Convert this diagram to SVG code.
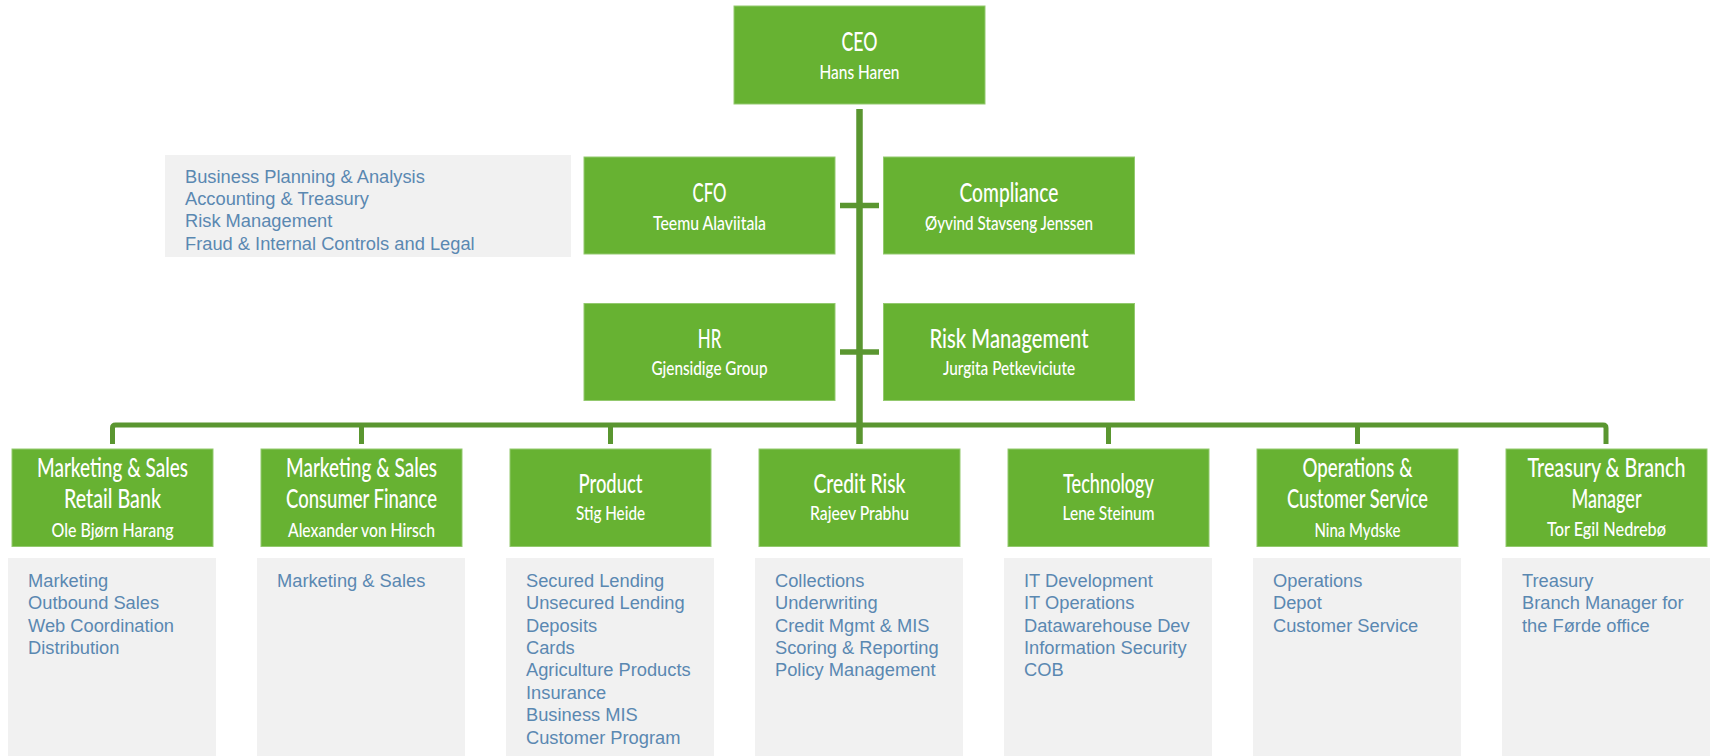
<svg xmlns="http://www.w3.org/2000/svg" width="1714" height="756" viewBox="0 0 1714 756">
  <style>
    .box { fill: #67B232; stroke: #93C96E; stroke-width: 1; }
    .list { fill: #F1F1F1; }
    .title { font-family: Lato, "Open Sans", "DejaVu Sans", sans-serif; font-size: 26.5px; font-weight: 500; fill: #FFFFFF; text-anchor: middle; }
    .name { font-family: Lato, "Open Sans", "DejaVu Sans", sans-serif; font-size: 19.5px; font-weight: 500; fill: #FFFFFF; text-anchor: middle; }
    .item { font-family: "Liberation Sans", Arial, sans-serif; font-size: 18.3px; fill: #5A88B1; }
    .wire { fill: none; stroke: #5A9630; stroke-linecap: butt; stroke-linejoin: round; }
  </style>

  <!-- connectors -->
  <g id="connectors">
    <line class="wire" x1="859.5" y1="109" x2="859.5" y2="444" stroke-width="6.5"/>
    <line class="wire" x1="840" y1="205.5" x2="879" y2="205.5" stroke-width="5.5"/>
    <line class="wire" x1="840" y1="352" x2="879" y2="352" stroke-width="5.5"/>
    <path class="wire" d="M112.5,444 V428 Q112.5,425 115.5,425 H1603 Q1606,425 1606,428 V444" stroke-width="5"/>
    <line class="wire" x1="361.5" y1="425" x2="361.5" y2="444" stroke-width="5"/>
    <line class="wire" x1="610.5" y1="425" x2="610.5" y2="444" stroke-width="5"/>
    <line class="wire" x1="1108.5" y1="425" x2="1108.5" y2="444" stroke-width="5"/>
    <line class="wire" x1="1357.5" y1="425" x2="1357.5" y2="444" stroke-width="5"/>
  </g>

  <!-- top level -->
  <g id="ceo">
    <rect class="box" x="734" y="6" width="251" height="98"/>
    <text class="title" x="859.5" y="51" font-size="29" textLength="36" lengthAdjust="spacingAndGlyphs">CEO</text>
    <text class="name" x="859.5" y="79" textLength="80" lengthAdjust="spacingAndGlyphs">Hans Haren</text>
  </g>

  <g id="cfo-functions">
    <rect class="list" x="165" y="155" width="406" height="102"/>
    <text class="item" x="185" y="182.7">Business Planning &amp; Analysis</text>
    <text class="item" x="185" y="205">Accounting &amp; Treasury</text>
    <text class="item" x="185" y="227.3">Risk Management</text>
    <text class="item" x="185" y="249.6">Fraud &amp; Internal Controls and Legal</text>
  </g>

  <g id="cfo">
    <rect class="box" x="584" y="157" width="251" height="97"/>
    <text class="title" x="709.5" y="201.5" font-size="28" textLength="34" lengthAdjust="spacingAndGlyphs">CFO</text>
    <text class="name" x="709.5" y="230" textLength="113" lengthAdjust="spacingAndGlyphs">Teemu Alaviitala</text>
  </g>

  <g id="compliance">
    <rect class="box" x="883.5" y="157" width="251" height="97"/>
    <text class="title" x="1009" y="201.5" textLength="99" lengthAdjust="spacingAndGlyphs">Compliance</text>
    <text class="name" x="1009" y="230" textLength="168" lengthAdjust="spacingAndGlyphs">Øyvind Stavseng Jenssen</text>
  </g>

  <g id="hr">
    <rect class="box" x="584" y="303.5" width="251" height="97"/>
    <text class="title" x="709.5" y="347.5" textLength="23.5" lengthAdjust="spacingAndGlyphs">HR</text>
    <text class="name" x="709.5" y="375" textLength="116" lengthAdjust="spacingAndGlyphs">Gjensidige Group</text>
  </g>

  <g id="risk-management">
    <rect class="box" x="883.5" y="303.5" width="251" height="97"/>
    <text class="title" x="1009" y="347.5" textLength="159" lengthAdjust="spacingAndGlyphs">Risk Management</text>
    <text class="name" x="1009" y="375" textLength="132" lengthAdjust="spacingAndGlyphs">Jurgita Petkeviciute</text>
  </g>

  <!-- business units -->
  <g id="retail-bank">
    <rect class="box" x="12" y="449" width="201" height="97.5"/>
    <text class="title" x="112.5" y="476.7" textLength="151" lengthAdjust="spacingAndGlyphs">Marketing &amp; Sales</text>
    <text class="title" x="112.5" y="507.7" textLength="97" lengthAdjust="spacingAndGlyphs">Retail Bank</text>
    <text class="name" x="112.5" y="536.7" textLength="122" lengthAdjust="spacingAndGlyphs">Ole Bjørn Harang</text>
    <rect class="list" x="8" y="558" width="208" height="198"/>
    <text class="item" x="28" y="586.7">Marketing</text>
    <text class="item" x="28" y="609.1">Outbound Sales</text>
    <text class="item" x="28" y="631.5">Web Coordination</text>
    <text class="item" x="28" y="653.9">Distribution</text>
  </g>

  <g id="consumer-finance">
    <rect class="box" x="261" y="449" width="201" height="97.5"/>
    <text class="title" x="361.5" y="476.7" textLength="151" lengthAdjust="spacingAndGlyphs">Marketing &amp; Sales</text>
    <text class="title" x="361.5" y="507.7" textLength="151" lengthAdjust="spacingAndGlyphs">Consumer Finance</text>
    <text class="name" x="361.5" y="536.7" textLength="147" lengthAdjust="spacingAndGlyphs">Alexander von Hirsch</text>
    <rect class="list" x="257" y="558" width="208" height="198"/>
    <text class="item" x="277" y="586.7">Marketing &amp; Sales</text>
  </g>

  <g id="product">
    <rect class="box" x="510" y="449" width="201" height="97.5"/>
    <text class="title" x="610.5" y="493.3" textLength="64" lengthAdjust="spacingAndGlyphs">Product</text>
    <text class="name" x="610.5" y="520.3" textLength="69" lengthAdjust="spacingAndGlyphs">Stig Heide</text>
    <rect class="list" x="506" y="558" width="208" height="198"/>
    <text class="item" x="526" y="586.7">Secured Lending</text>
    <text class="item" x="526" y="609.1">Unsecured Lending</text>
    <text class="item" x="526" y="631.5">Deposits</text>
    <text class="item" x="526" y="653.9">Cards</text>
    <text class="item" x="526" y="676.3">Agriculture Products</text>
    <text class="item" x="526" y="698.7">Insurance</text>
    <text class="item" x="526" y="721.1">Business MIS</text>
    <text class="item" x="526" y="743.5">Customer Program</text>
  </g>

  <g id="credit-risk">
    <rect class="box" x="759" y="449" width="201" height="97.5"/>
    <text class="title" x="859.5" y="493.3" textLength="92" lengthAdjust="spacingAndGlyphs">Credit Risk</text>
    <text class="name" x="859.5" y="520.3" textLength="99" lengthAdjust="spacingAndGlyphs">Rajeev Prabhu</text>
    <rect class="list" x="755" y="558" width="208" height="198"/>
    <text class="item" x="775" y="586.7">Collections</text>
    <text class="item" x="775" y="609.1">Underwriting</text>
    <text class="item" x="775" y="631.5">Credit Mgmt &amp; MIS</text>
    <text class="item" x="775" y="653.9">Scoring &amp; Reporting</text>
    <text class="item" x="775" y="676.3">Policy Management</text>
  </g>

  <g id="technology">
    <rect class="box" x="1008" y="449" width="201" height="97.5"/>
    <text class="title" x="1108.5" y="493.3" textLength="91" lengthAdjust="spacingAndGlyphs">Technology</text>
    <text class="name" x="1108.5" y="520.3" textLength="92" lengthAdjust="spacingAndGlyphs">Lene Steinum</text>
    <rect class="list" x="1004" y="558" width="208" height="198"/>
    <text class="item" x="1024" y="586.7">IT Development</text>
    <text class="item" x="1024" y="609.1">IT Operations</text>
    <text class="item" x="1024" y="631.5">Datawarehouse Dev</text>
    <text class="item" x="1024" y="653.9">Information Security</text>
    <text class="item" x="1024" y="676.3">COB</text>
  </g>

  <g id="operations">
    <rect class="box" x="1257" y="449" width="201" height="97.5"/>
    <text class="title" x="1357.5" y="477.3" textLength="110" lengthAdjust="spacingAndGlyphs">Operations &amp;</text>
    <text class="title" x="1357.5" y="508.3" textLength="141" lengthAdjust="spacingAndGlyphs">Customer Service</text>
    <text class="name" x="1357.5" y="536.7" textLength="86" lengthAdjust="spacingAndGlyphs">Nina Mydske</text>
    <rect class="list" x="1253" y="558" width="208" height="198"/>
    <text class="item" x="1273" y="586.7">Operations</text>
    <text class="item" x="1273" y="609.1">Depot</text>
    <text class="item" x="1273" y="631.5">Customer Service</text>
  </g>

  <g id="treasury">
    <rect class="box" x="1506" y="449" width="201" height="97.5"/>
    <text class="title" x="1606.5" y="476.7" textLength="158" lengthAdjust="spacingAndGlyphs">Treasury &amp; Branch</text>
    <text class="title" x="1606.5" y="507.7" textLength="70" lengthAdjust="spacingAndGlyphs">Manager</text>
    <text class="name" x="1606.5" y="536" textLength="119" lengthAdjust="spacingAndGlyphs">Tor Egil Nedrebø</text>
    <rect class="list" x="1502" y="558" width="208" height="198"/>
    <text class="item" x="1522" y="586.7">Treasury</text>
    <text class="item" x="1522" y="609.1">Branch Manager for</text>
    <text class="item" x="1522" y="631.5">the Førde office</text>
  </g>
</svg>
